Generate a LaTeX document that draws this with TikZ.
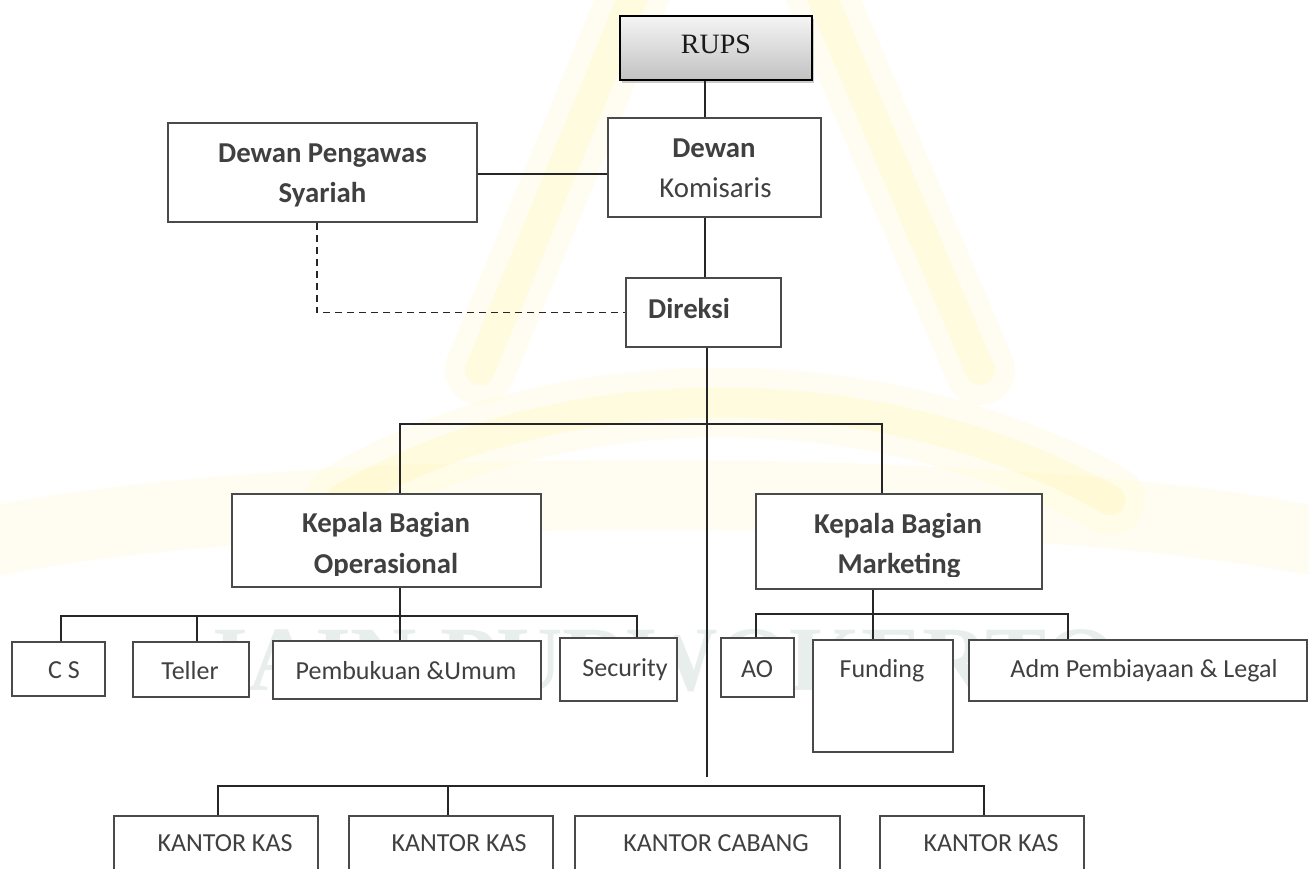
\documentclass[tikz,border=0pt]{standalone}
\usepackage{fontspec}
\setmainfont{Carlito}
\newfontfamily\rupsfont{Liberation Serif}
\usetikzlibrary{shadows}
\definecolor{txt}{HTML}{404040}
\definecolor{bord}{HTML}{4A4A4A}
\definecolor{wmy}{HTML}{FFF59A}
\definecolor{wmg}{HTML}{C4D6CF}
\begin{document}
\begin{tikzpicture}[x=1pt,y=-1pt,
  box/.style={draw=bord, line width=1.1pt, fill=white, rectangle, inner sep=0pt},
  conn/.style={draw=black!85, line width=1.4pt},
  dconn/.style={conn, dash pattern=on 7pt off 5pt},
  bigr/.style={text=txt, font=\fontsize{28.8}{34}\selectfont, inner sep=0pt, anchor=base},
  bigb/.style={text=txt, font=\fontsize{28.8}{34}\selectfont\bfseries, inner sep=0pt, anchor=base},
  small/.style={text=txt, font=\fontsize{26}{31}\selectfont, inner sep=0pt, anchor=base},
  wmband/.style={draw=wmy, line cap=round, line width=30pt, opacity=0.22},
  wmsoft/.style={draw=wmy, line cap=round, line width=70pt, opacity=0.12},
]
\useasboundingbox (0,0) rectangle (1309,868);
\clip (0,0) rectangle (1309,868);
\fill[white] (0,0) rectangle (1309,868);

% ---- faint watermark ----
\foreach \s in {wmsoft,wmband}{
  \draw[\s] (640,-20) -- (480,370);
  \draw[\s] (815,-20) -- (980,370);
  \draw[\s] (340,500) .. controls (560,370) and (880,370) .. (1110,500);
}
\draw[wmsoft] (0,540) .. controls (300,480) and (1000,480) .. (1309,540);
\node[text=wmg, opacity=0.4, font=\rupsfont\bfseries\fontsize{92}{100}\selectfont, anchor=base] (wmtext) at (665,690) {IAIN PURWOKERTO};

% ---- boxes ----
\node[box, top color=black!4, bottom color=black!24, draw=black, line width=1.3pt,
      drop shadow={shadow xshift=2pt, shadow yshift=-3pt, fill=black!40, opacity=0.5},
      minimum width=192pt, minimum height=64pt] (rups) at (716,48) {};
\node[box, minimum width=213pt, minimum height=99pt] (dk) at (714.5,167.5) {};
\node[box, minimum width=309pt, minimum height=99pt] (dps) at (322.5,172.5) {};
\node[box, minimum width=155pt, minimum height=69pt] (dir) at (703.5,312.5) {};
\node[box, minimum width=309pt, minimum height=93pt] (kbo) at (386.5,540.5) {};
\node[box, minimum width=286pt, minimum height=95pt] (kbm) at (899,541.5) {};
\node[box, minimum width=93pt, minimum height=54pt] (cs) at (58.5,669) {};
\node[box, minimum width=116pt, minimum height=55pt] (teller) at (191,669.5) {};
\node[box, minimum width=268pt, minimum height=58pt] (pemb) at (407,670) {};
\node[box, minimum width=117pt, minimum height=63pt] (sec) at (618.5,669.5) {};
\node[box, minimum width=73pt, minimum height=59pt] (ao) at (757.5,667.5) {};
\node[box, minimum width=140pt, minimum height=112pt] (fund) at (883,696) {};
\node[box, minimum width=338pt, minimum height=61pt] (adm) at (1138,670.5) {};
\node[box, minimum width=204pt, minimum height=74pt] (kk1) at (216,853) {};
\node[box, minimum width=204pt, minimum height=74pt] (kk2) at (451,853) {};
\node[box, minimum width=265pt, minimum height=74pt] (kc) at (707.5,853) {};
\node[box, minimum width=204pt, minimum height=74pt] (kk4) at (982,853) {};

% ---- texts ----
\node[text=black!90, font=\rupsfont\fontsize{28}{34}\selectfont, inner sep=0pt, anchor=base] (rups-t) at (716,53) {RUPS};
\node[bigb] (dk-t1) at (714,157) {Dewan};
\node[bigr] (dk-t2) at (715.5,197) {Komisaris};
\node[bigb] (dps-t1) at (322.5,162) {Dewan Pengawas};
\node[bigb] (dps-t2) at (322.5,202) {Syariah};
\node[bigb] (dir-t) at (689,318) {Direksi};
\node[bigb] (kbo-t1) at (386,532) {Kepala Bagian};
\node[bigb] (kbm-t1) at (898,533) {Kepala Bagian};
\begin{scope}
  \clip (232,540) rectangle (541,575);
  \node[bigb] (kbo-t2) at (386,573) {Operasional};
\end{scope}
\begin{scope}
  \clip (756,540) rectangle (1042,576);
  \node[bigb] (kbm-t2) at (899,573) {Marketing};
\end{scope}
\node[small] (cs-t) at (64,678) {C S};
\node[small] (teller-t) at (190,679) {Teller};
\node[small] (pemb-t) at (406,679) {Pembukuan \&Umum};
\node[small] (sec-t) at (625,676) {Security};
\node[small] (ao-t) at (757,677) {AO};
\node[small] (fund-t) at (882,677) {Funding};
\node[small] (adm-t) at (1144,677) {Adm Pembiayaan \& Legal};
\node[small] (kk1-t) at (225,851) {KANTOR KAS};
\node[small] (kk2-t) at (459,851) {KANTOR KAS};
\node[small] (kc-t) at (716,851) {KANTOR CABANG};
\node[small] (kk4-t) at (991,851) {KANTOR KAS};

% ---- helper coordinates ----
\coordinate (trunk) at (705,0);
\coordinate (trunkend) at (707,777);
\coordinate (dx) at (317,0);
\coordinate (bo) at (400,0);
\coordinate (bm) at (882,0);
\coordinate (ubar) at (0,424);
\coordinate (opl) at (61,616);
\coordinate (opt) at (197,616);
\coordinate (opr) at (637,616);
\coordinate (mf) at (873,0);
\coordinate (mkl) at (756,614);
\coordinate (mkr) at (1068,614);
\coordinate (bl) at (218,786);
\coordinate (bmid) at (448,786);
\coordinate (br) at (984,786);

% ---- connectors ----
\draw[conn] (rups.south -| trunk) -- (dk.north -| trunk);
\draw[conn] (dk.south -| trunk) -- (dir.north -| trunk);
\draw[conn] (dps.east |- 0,174) -- (dk.west |- 0,174);
\draw[dconn] (dps.south -| dx) |- (dir.west);
\draw[conn] (dir.south -| trunkend) -- (trunkend);
\draw[conn] (kbo.north -| bo) -- (bo |- ubar) -- (bm |- ubar) -- (kbm.north -| bm);
\draw[conn] (kbo.south -| bo) -- (pemb.north -| bo);
\draw[conn] (cs.north -| opl) -- (opl) -- (opr) -- (sec.north -| opr);
\draw[conn] (opt) -- (teller.north -| opt);
\draw[conn] (kbm.south -| mf) -- (fund.north -| mf);
\draw[conn] (ao.north -| mkl) -- (mkl) -- (mkr) -- (adm.north -| mkr);
\draw[conn] (kk1.north -| bl) -- (bl) -- (br) -- (kk4.north -| br);
\draw[conn] (bmid) -- (kk2.north -| bmid);
\end{tikzpicture}
\end{document}
